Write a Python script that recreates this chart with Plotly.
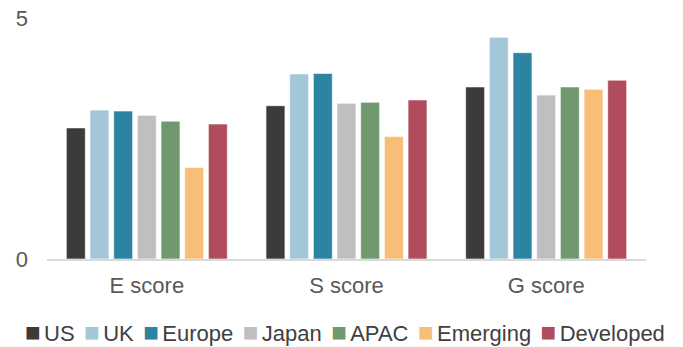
import plotly.graph_objects as go

categories = ["E score", "S score", "G score"]
series_names = ["US", "UK", "Europe", "Japan", "APAC", "Emerging", "Developed"]
us = [2.72, 3.18, 3.57]
uk = [3.09, 3.84, 4.60]
europe = [3.07, 3.85, 4.28]
japan = [2.98, 3.23, 3.40]
apac = [2.86, 3.25, 3.57]
emerging = [1.90, 2.54, 3.52]
developed = [2.80, 3.30, 3.71]
y_ticks = [0, 5]

values = [us, uk, europe, japan, apac, emerging, developed]
colors = ["#3b3b3b", "#a3c6d8", "#2a84a2", "#bfbfbf", "#71996f", "#f8bd77", "#b04c5c"]

FONT = "Liberation Sans, Arial, sans-serif"

fig = go.Figure()
for name, vals, col in zip(series_names, values, colors):
    fig.add_trace(go.Bar(
        name=name, x=categories, y=vals,
        marker=dict(color=col, line=dict(color="rgba(255,255,255,0.6)", width=1)),
        showlegend=False,
    ))

# compact legend (square swatch + label) as real text
small_gap = '<span style="font-size:12px">&nbsp;</span>'
entries = [
    f'<span style="color:{c};font-size:26px">■</span>{small_gap}{n}'
    for n, c in zip(series_names, colors)
]
legend_text = ("&nbsp;" + small_gap).join(entries)
fig.add_annotation(
    text=legend_text, xref="paper", yref="paper",
    x=0.4975, y=-0.302, xanchor="center", yanchor="middle",
    showarrow=False, font=dict(family=FONT, size=22, color="#404040"),
)

fig.update_layout(
    width=683, height=347,
    margin=dict(l=47, r=37, t=18, b=88, autoexpand=False),
    paper_bgcolor="white", plot_bgcolor="white",
    barmode="group", bargap=0.17, bargroupgap=0.2,
    font=dict(family=FONT, size=22, color="#595959"),
    showlegend=False,
    xaxis=dict(
        showline=True, linecolor="#d9d9d9", linewidth=2,
        showgrid=False, ticks="", zeroline=False,
        ticklabelstandoff=6,
        tickfont=dict(family=FONT, size=22, color="#595959"),
    ),
    yaxis=dict(
        range=[0, 5], tickvals=y_ticks, ticktext=[str(v) for v in y_ticks],
        showgrid=False, zeroline=False, showline=False, ticks="",
        ticklabelstandoff=18,
        tickfont=dict(family=FONT, size=22, color="#595959"),
    ),
)

fig.write_html("out.html")
